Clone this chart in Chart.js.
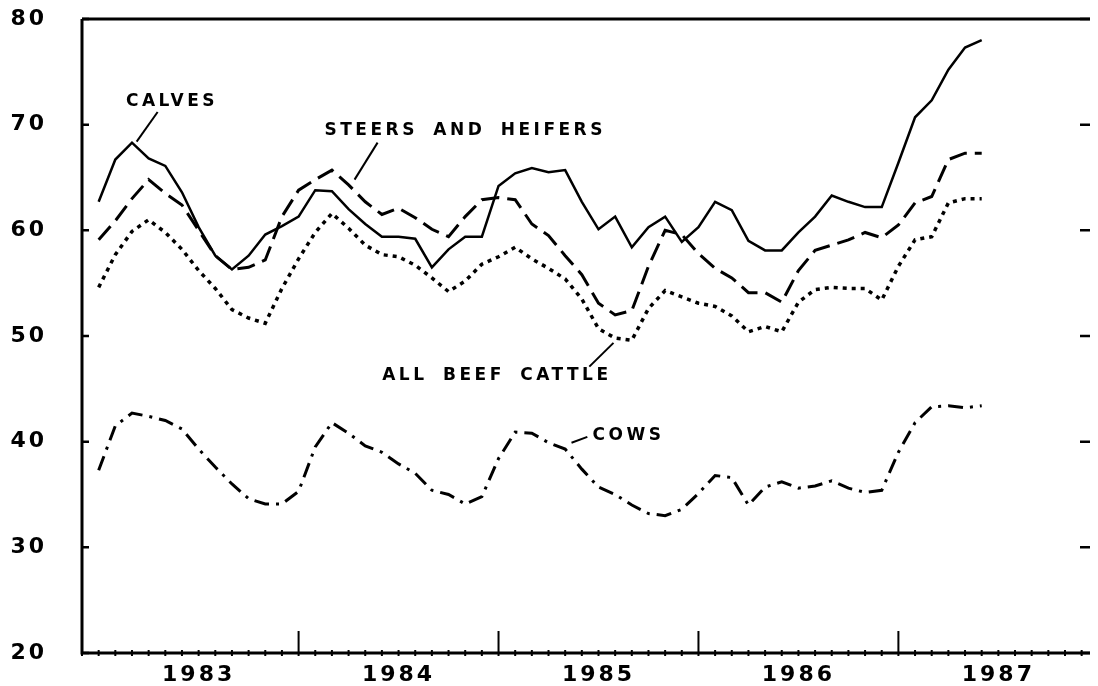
<!DOCTYPE html>
<html lang="en">
<head>
<meta charset="utf-8">
<title>Cattle prices 1983-1987</title>
<script src="https://cdn.jsdelivr.net/npm/chart.js@4.4.0/dist/chart.umd.min.js"></script>
<style>
  html, body { margin: 0; padding: 0; background: #fff; }
  #wrap { width: 1098px; height: 686px; position: relative; }
</style>
</head>
<body>
<div id="wrap"><canvas id="cattleChart"></canvas></div>
<script>
  // monthly values, index 0 = Jan 1983 ... index 53 = Jun 1987
  const calves = [62.7, 66.7, 68.3, 66.8, 66.1, 63.6, 60.3, 57.6, 56.3, 57.6, 59.6, 60.4,
                  61.3, 63.8, 63.7, 62.0, 60.6, 59.4, 59.4, 59.2, 56.5, 58.2, 59.4, 59.4,
                  64.2, 65.4, 65.9, 65.5, 65.7, 62.7, 60.1, 61.3, 58.4, 60.3, 61.3, 58.9,
                  60.3, 62.7, 61.9, 59.0, 58.1, 58.1, 59.8, 61.3, 63.3, 62.7, 62.2, 62.2,
                  66.4, 70.7, 72.3, 75.2, 77.3, 78.0];
  const steers = [59.1, 60.9, 63.0, 64.8, 63.5, 62.4, 60.0, 57.6, 56.3, 56.5, 57.2, 61.3,
                  63.8, 64.8, 65.7, 64.3, 62.7, 61.5, 62.1, 61.2, 60.1, 59.4, 61.3, 62.9,
                  63.1, 62.9, 60.6, 59.5, 57.6, 55.8, 53.1, 52.0, 52.4, 56.6, 60.0, 59.6,
                  57.8, 56.4, 55.5, 54.1, 54.1, 53.2, 56.2, 58.1, 58.6, 59.1, 59.8, 59.3,
                  60.5, 62.6, 63.2, 66.7, 67.3, 67.3];
  const allBeef = [54.6, 57.7, 59.9, 61.0, 59.8, 58.2, 56.2, 54.5, 52.5, 51.7, 51.2, 54.5,
                   57.3, 59.8, 61.6, 60.2, 58.6, 57.7, 57.5, 56.7, 55.5, 54.2, 55.2, 56.8,
                   57.5, 58.4, 57.3, 56.4, 55.4, 53.5, 50.7, 49.8, 49.6, 52.6, 54.3, 53.7,
                   53.1, 52.8, 51.9, 50.4, 50.9, 50.4, 53.2, 54.4, 54.6, 54.5, 54.5, 53.4,
                   56.6, 59.1, 59.4, 62.6, 63.0, 63.0];
  const cows = [37.3, 41.5, 42.7, 42.4, 42.0, 41.2, 39.3, 37.6, 36.0, 34.6, 34.1, 34.1,
                35.3, 39.5, 41.8, 40.8, 39.6, 39.0, 37.9, 37.0, 35.4, 35.0, 34.1, 34.8,
                38.4, 40.9, 40.8, 39.9, 39.3, 37.4, 35.7, 35.0, 34.0, 33.2, 33.0, 33.6,
                35.1, 36.8, 36.6, 34.0, 35.7, 36.2, 35.6, 35.8, 36.3, 35.6, 35.2, 35.4,
                39.0, 41.8, 43.3, 43.4, 43.2, 43.4];

  const yearLabels = ['1983', '1984', '1985', '1986', '1987'];
  const yearCenters = [6, 18, 30, 42, 54];   // months from Jan 1983
  const yearStarts = [12, 24, 36, 48];
  const yTicks = [20, 30, 40, 50, 60, 70, 80];

  // label text, its centre, and the leader line (all in data units)
  const notes = [
    { text: 'CALVES', at: [4.4, 72.2], from: [3.54, 71.2], to: [2.28, 68.4] },
    { text: 'STEERS AND HEIFERS', at: [22.0, 69.4], from: [16.74, 68.3], to: [15.36, 64.8] },
    { text: 'ALL BEEF CATTLE', at: [23.9, 46.3], from: [29.45, 47.1], to: [30.9, 49.35] },
    { text: 'COWS', at: [31.8, 40.6], from: [29.33, 40.45], to: [28.38, 39.9] }
  ];

  const toPoints = arr => arr.map((v, i) => ({ x: i, y: v }));
  const FONT = 'DejaVu Sans';
  const TICK_SPACING = '3px';

  const spacing = {
    id: 'spacing',
    beforeLayout(chart) { chart.ctx.letterSpacing = TICK_SPACING; },
    beforeDraw(chart) { chart.ctx.letterSpacing = TICK_SPACING; }
  };

  const frame = {
    id: 'frame',
    beforeDatasetsDraw(chart) {
      const { ctx, chartArea: a, scales: { x, y } } = chart;
      ctx.save();
      ctx.strokeStyle = '#000';
      ctx.lineCap = 'butt';
      // axes + top line
      ctx.lineWidth = 3;
      ctx.beginPath();
      ctx.moveTo(a.left, a.top);
      ctx.lineTo(a.left, a.bottom);
      ctx.lineTo(a.right, a.bottom);
      ctx.moveTo(a.left, a.top);
      ctx.lineTo(a.right, a.top);
      ctx.stroke();
      // y ticks, inside on both sides
      ctx.lineWidth = 2.5;
      ctx.beginPath();
      yTicks.forEach(v => {
        const py = y.getPixelForValue(v);
        ctx.moveTo(a.left, py); ctx.lineTo(a.left + 7, py);
        ctx.moveTo(a.right - 10, py); ctx.lineTo(a.right, py);
      });
      ctx.stroke();
      // monthly ticks and year marks
      ctx.lineWidth = 2;
      ctx.beginPath();
      for (let m = -1; m <= Math.floor(x.max); m++) {
        const px = x.getPixelForValue(m);
        ctx.moveTo(px, a.bottom - 3); ctx.lineTo(px, a.bottom + 3);
      }
      yearStarts.forEach(m => {
        const px = x.getPixelForValue(m);
        ctx.moveTo(px, a.bottom); ctx.lineTo(px, a.bottom - 22);
      });
      ctx.stroke();
      ctx.restore();
    },
    afterDatasetsDraw(chart) {
      const { ctx, scales: { x, y } } = chart;
      ctx.save();
      ctx.fillStyle = '#000';
      ctx.strokeStyle = '#000';
      ctx.font = 'bold 17px "' + FONT + '"';
      ctx.letterSpacing = '3.5px';
      ctx.wordSpacing = '6px';
      ctx.textAlign = 'center';
      ctx.textBaseline = 'middle';
      ctx.lineWidth = 2;
      notes.forEach(n => {
        ctx.fillText(n.text, x.getPixelForValue(n.at[0]), y.getPixelForValue(n.at[1]));
        ctx.beginPath();
        ctx.moveTo(x.getPixelForValue(n.from[0]), y.getPixelForValue(n.from[1]));
        ctx.lineTo(x.getPixelForValue(n.to[0]), y.getPixelForValue(n.to[1]));
        ctx.stroke();
      });
      ctx.restore();
    }
  };

  new Chart(document.getElementById('cattleChart'), {
    type: 'line',
    data: {
      datasets: [
        { label: 'Calves', data: toPoints(calves), borderColor: '#000', borderWidth: 2.5 },
        { label: 'Steers and heifers', data: toPoints(steers), borderColor: '#000', borderWidth: 3, borderDash: [18, 8] },
        { label: 'All beef cattle', data: toPoints(allBeef), borderColor: '#000', borderWidth: 3.5, borderDash: [4, 5] },
        { label: 'Cows', data: toPoints(cows), borderColor: '#000', borderWidth: 3, borderDash: [15, 7, 3, 7] }
      ]
    },
    options: {
      responsive: true,
      maintainAspectRatio: false,
      animation: false,
      events: [],
      elements: { point: { radius: 0 }, line: { tension: 0, fill: false } },
      layout: { padding: { top: 19, right: 8, left: 0, bottom: 0 } },
      plugins: { legend: { display: false }, tooltip: { enabled: false } },
      scales: {
        x: {
          type: 'linear',
          min: -1,
          max: 59.5,
          grid: { display: false, drawTicks: false },
          border: { display: false },
          afterFit: s => { s.height = 33; s.paddingLeft = 0; s.paddingRight = 0; },
          afterBuildTicks: s => { s.ticks = yearCenters.map(v => ({ value: v })); },
          ticks: {
            autoSkip: false,
            maxRotation: 0,
            padding: 9,
            color: '#000',
            font: { family: FONT, size: 22, weight: 'bold' },
            callback: v => yearLabels[yearCenters.indexOf(v)]
          }
        },
        y: {
          min: 20,
          max: 80,
          grid: { display: false, drawTicks: false },
          border: { display: false },
          afterFit: s => { s.width = 82; s.paddingTop = 0; s.paddingBottom = 0; },
          afterBuildTicks: s => { s.ticks = yTicks.map(v => ({ value: v })); },
          ticks: {
            padding: 35,
            color: '#000',
            font: { family: FONT, size: 22, weight: 'bold' }
          }
        }
      }
    },
    plugins: [spacing, frame]
  });
</script>
</body>
</html>
